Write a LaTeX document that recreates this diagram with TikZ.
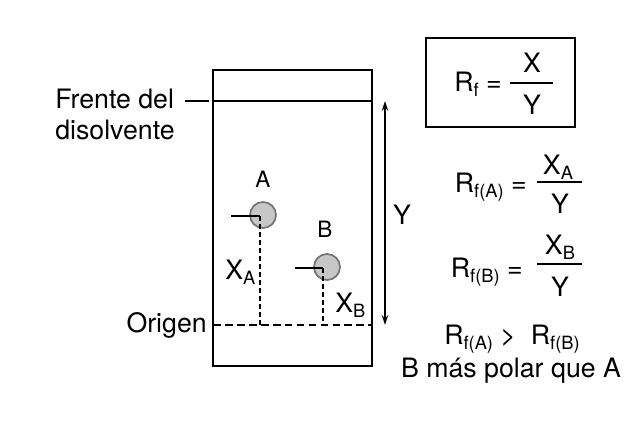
\documentclass[tikz,border=0pt]{standalone}
\usepackage{fontspec}
\setmainfont{TeX Gyre Heros}
\usepackage{tikz}
\usetikzlibrary{arrows.meta, positioning}

\newcommand{\lowsub}[1]{\raisebox{-3.5pt}{\fontsize{13}{13}\selectfont #1}}

\begin{document}
\begin{tikzpicture}[
  x=0.025cm, y=-0.025cm,
  txt/.style={font=\fontsize{19}{22}\selectfont, inner sep=0pt},
  spotlabel/.style={font=\fontsize{16}{18}\selectfont, inner sep=0pt},
  plate/.style={draw, line width=1.8pt},
  tickline/.style={line width=1.8pt},
  dashline/.style={line width=1.8pt, dash pattern=on 5.5pt off 3pt},
  dropline/.style={line width=1.8pt, dash pattern=on 3.5pt off 2.2pt},
  spot/.style={circle, draw=black!55, fill=black!22, line width=1.2pt,
               minimum size=0.65cm, inner sep=0pt},
  rfbox/.style={draw, line width=1.6pt, minimum width=3.725cm, minimum height=2.225cm},
  fracbar/.style={line width=1.5pt},
  yarrow/.style={{Stealth[length=7pt,width=4.5pt]}-{Stealth[length=7pt,width=4.5pt]},
                 line width=1.2pt},
]
\useasboundingbox (0,0) rectangle (639,445);

%% TLC plate
\coordinate (plateNW) at (213,70);
\coordinate (plateSE) at (372,366);
\draw[plate] (plateNW) rectangle (plateSE);
\coordinate (frontW) at (213,101);
\coordinate (frontE) at (372,101);
\draw[plate] (frontW) -- (frontE);
\coordinate (origW) at (213,325);
\coordinate (origE) at (372,325);
\draw[dashline] (origW) -- (origE);

%% Spots
\node[spot] (spotA) at (263,215) {};
\node[spot] (spotB) at (327,267) {};
\coordinate (footA) at (260,216);
\coordinate (tickA) at (231,216);
\coordinate (footB) at (323,268);
\coordinate (tickB) at (295,268);
\draw[tickline] (tickA) -- (footA);
\draw[tickline] (tickB) -- (footB);
\draw[dropline] (footA) -- (footA |- origW);
\draw[dropline] (footB) -- (footB |- origW);

\node[spotlabel, anchor=base] (labA) at (263,188) {A};
\node[spotlabel, anchor=base] (labB) at (325,238) {B};
\node[txt, anchor=base west] (labXA) at (225,280) {X\lowsub{A}};
\node[txt, anchor=base west] (labXB) at (335,313) {X\lowsub{B}};

%% Left labels
\node[txt, anchor=north west, align=left] (front) at (55,89) {Frente del\\disolvente};
\coordinate (leadW) at (185,101);
\draw[tickline] (leadW) -- ([xshift=-3pt]frontW);
\node[txt, anchor=base east] (origen) at (207,333) {Origen};

%% Distance Y
\coordinate (arrTop) at (385,101);
\coordinate (arrBot) at (385,325);
\draw[yarrow] (arrTop) -- (arrBot);
\node[txt, anchor=base] (labY) at (402,225) {Y};

%% Formulas
\node[rfbox] (rfbox) at (500.5,82.5) {};
\node[txt, anchor=base east] (rfeq) at (502,92) {R\lowsub{f} =};
\node[txt, anchor=base] (rfnum) at (532,73) {X};
\node[txt, anchor=base] (rfden) at (532,115) {Y};
\draw[fracbar] (510,83) -- (553,83);

\node[txt, anchor=base east] (rfaeq) at (527,193) {R\lowsub{f(A)} =};
\node[txt, anchor=base] (rfanum) at (558,175) {X\lowsub{A}};
\node[txt, anchor=base] (rfaden) at (560,214) {Y};
\draw[fracbar] (537,182) -- (582,182);

\node[txt, anchor=base east] (rfbeq) at (523,278) {R\lowsub{f(B)} =};
\node[txt, anchor=base] (rfbnum) at (560,255) {X\lowsub{B}};
\node[txt, anchor=base] (rfbden) at (560,297) {Y};
\draw[fracbar] (537,264) -- (582,264);

\node[txt, anchor=base] (cmp) at (512,345) {R\lowsub{f(A)} >\ \ R\lowsub{f(B)}};
\node[txt, anchor=base] (concl) at (511,378) {B más polar que A};

\end{tikzpicture}
\end{document}
